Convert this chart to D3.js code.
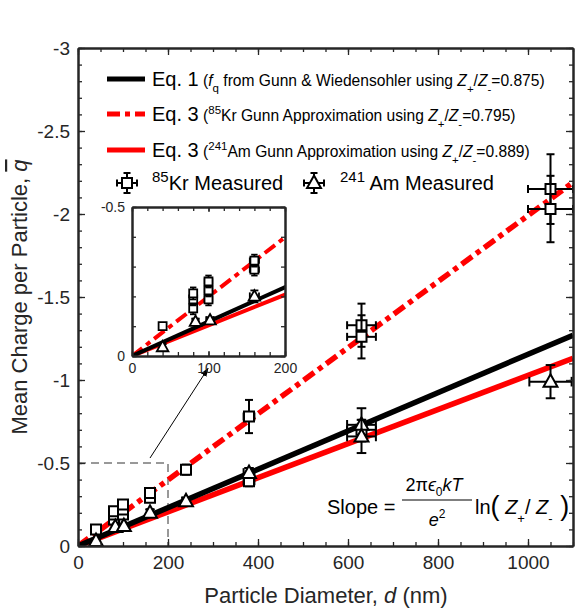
<!DOCTYPE html>
<html>
<head>
<meta charset="utf-8">
<script src="https://cdn.jsdelivr.net/npm/d3@7"></script>
<style>
  body { margin: 0; background: #fff; }
  svg { font-family: "Liberation Sans", Arial, Helvetica, sans-serif; }
</style>
</head>
<body>
<script>
// measured points, Kr-85 neutralizer (squares)
const krD    = [40, 80, 80, 80, 100, 100, 100, 160, 160, 240, 380, 380, 630, 630, 630, 1050, 1050];
const krQ    = [-0.10, -0.16, -0.19, -0.21, -0.19, -0.22, -0.25, -0.29, -0.32, -0.46, -0.78, -0.39, -1.33, -1.26, -0.70, -2.15, -2.03];
const krErrD = [3, 4, 4, 4, 5, 5, 5, 6, 6, 8, 12, 12, 32, 32, 32, 50, 50];
const krErrQ = [0.01, 0.02, 0.02, 0.02, 0.02, 0.02, 0.02, 0.02, 0.02, 0.03, 0.1, 0.03, 0.13, 0.13, 0.06, 0.21, 0.2];

// measured points, Am-241 neutralizer (triangles)
const amD    = [40, 83, 102, 160, 240, 380, 630, 630, 1050];
const amQ    = [-0.03, -0.115, -0.12, -0.20, -0.27, -0.44, -0.73, -0.66, -0.99];
const amErrD = [3, 4, 5, 6, 8, 12, 32, 32, 47];
const amErrQ = [0.01, 0.01, 0.01, 0.02, 0.02, 0.03, 0.1, 0.1, 0.1];

// model lines through the origin, value at d = 1100 nm
const modelNames = ["Eq. 3 Kr", "Eq. 3 Am", "Eq. 1"];
const modelEndQ  = [-2.19, -1.13, -1.27];
const modelColor = ["#ff0000", "#ff0000", "#000000"];
const modelDash  = ["13,5,5,5", null, null];

// ticks
const xTicks = [0, 200, 400, 600, 800, 1000];
const xTickLabels = ["0", "200", "400", "600", "800", "1000"];
const yTicks = [0, -0.5, -1, -1.5, -2, -2.5, -3];
const yTickLabels = ["0", "-0.5", "-1", "-1.5", "-2", "-2.5", "-3"];
const insetXTicks = [0, 100, 200];
const insetXTickLabels = ["0", "100", "200"];
const insetYTicks = [0, -0.5];
const insetYTickLabels = ["0", "-0.5"];

const W = 575, H = 614;
const svg = d3.select("body").append("svg").attr("width", W).attr("height", H);

const x = d3.scaleLinear().domain([0, 1100]).range([78, 573]);
const y = d3.scaleLinear().domain([0, -3]).range([546, 48]);

const xi = d3.scaleLinear().domain([0, 200]).range([132, 285]);
const yi = d3.scaleLinear().domain([0, -0.5]).range([356, 207]);

const axisColor = "#262626";

function drawAxes(g, xs, ys, o) {
  const [x0, x1] = xs.range(), [y0, y1] = ys.range();
  const parts = [
    [d3.axisBottom(xs).tickValues(o.xMinor).tickSize(-o.minor).tickFormat(""), [0, y0]],
    [d3.axisTop(xs).tickValues(o.xMinor).tickSize(-o.minor).tickFormat(""), [0, y1]],
    [d3.axisLeft(ys).tickValues(o.yMinor).tickSize(-o.minor).tickFormat(""), [x0, 0]],
    [d3.axisRight(ys).tickValues(o.yMinor).tickSize(-o.minor).tickFormat(""), [x1, 0]],
    [d3.axisTop(xs).tickValues(o.xMajor).tickSize(-o.major).tickFormat(""), [0, y1]],
    [d3.axisRight(ys).tickValues(o.yMajor).tickSize(-o.major).tickFormat(""), [x1, 0]],
    [d3.axisBottom(xs).tickValues(o.xMajor).tickSize(-o.major).tickPadding(o.padX)
      .tickFormat((d, i) => o.xLabels[i]), [0, y0]],
    [d3.axisLeft(ys).tickValues(o.yMajor).tickSize(-o.major).tickPadding(o.padY)
      .tickFormat((d, i) => o.yLabels[i]), [x0, 0]]
  ];
  parts.forEach(([ax, t]) => {
    const a = g.append("g").attr("transform", "translate(" + t[0] + "," + t[1] + ")")
      .call(ax.tickSizeOuter(0));
    a.select(".domain").attr("stroke", axisColor).attr("stroke-width", o.width);
    a.selectAll(".tick line").attr("stroke", axisColor).attr("stroke-width", 1.3);
    a.selectAll(".tick text").attr("fill", axisColor).attr("font-size", o.font)
      .attr("font-family", "Liberation Sans, Arial, Helvetica, sans-serif");
  });
}

function drawModels(g, xs, ys, lw) {
  const line = d3.line().x(d => xs(d[0])).y(d => ys(d[1]));
  modelNames.forEach((name, i) => {
    g.append("path")
      .datum([[0, 0], [1100, modelEndQ[i]]])
      .attr("d", line)
      .attr("fill", "none")
      .attr("stroke", modelColor[i])
      .attr("stroke-width", lw)
      .attr("stroke-dasharray", modelDash[i]);
  });
}

function markerPath(shape, cx, cy, s) {
  if (shape === "square") {
    const h = s / 2;
    return "M" + (cx - h) + "," + (cy - h) + "h" + s + "v" + s + "h" + (-s) + "Z";
  }
  return "M" + cx + "," + (cy - s * 0.62) + "L" + (cx + s * 0.58) + "," + (cy + s * 0.42) +
    "L" + (cx - s * 0.58) + "," + (cy + s * 0.42) + "Z";
}

function errorMark(g, cx, cy, xa, xb, ya, yb, cap, shape, s, sw) {
  const segs = [
    [cx, ya, cx, yb], [cx - cap / 2, ya, cx + cap / 2, ya], [cx - cap / 2, yb, cx + cap / 2, yb],
    [xa, cy, xb, cy], [xa, cy - cap / 2, xa, cy + cap / 2], [xb, cy - cap / 2, xb, cy + cap / 2]
  ];
  segs.forEach(sg => g.append("line")
    .attr("x1", sg[0]).attr("y1", sg[1]).attr("x2", sg[2]).attr("y2", sg[3])
    .attr("stroke", "#000").attr("stroke-width", sw));
  g.append("path").attr("d", markerPath(shape, cx, cy, s))
    .attr("fill", "#fff").attr("stroke", "#000").attr("stroke-width", sw);
}

function drawSeries(g, ds, qs, eds, eqs, shape, xs, ys, s, sw, keep) {
  ds.forEach((d, i) => {
    if (keep && !keep(d, qs[i])) return;
    errorMark(g, xs(d), ys(qs[i]), xs(d - eds[i]), xs(d + eds[i]),
      ys(qs[i] - eqs[i]), ys(qs[i] + eqs[i]), s * 0.8, shape, s, sw);
  });
}

// ---------- main plot ----------
const main = svg.append("g");
svg.append("defs").append("clipPath").attr("id", "clipMain")
  .append("rect").attr("x", 78).attr("y", 48).attr("width", 495).attr("height", 498);

// dashed zoom box
main.append("path")
  .attr("d", "M" + x(0) + "," + y(-0.5) + "H" + x(200) + "V" + y(0))
  .attr("fill", "none").attr("stroke", "#333").attr("stroke-width", 1)
  .attr("stroke-dasharray", "8,5");

drawModels(main.append("g").attr("clip-path", "url(#clipMain)"), x, y, 5.5);
drawSeries(main, krD, krQ, krErrD, krErrQ, "square", x, y, 10, 2);
drawSeries(main, amD, amQ, amErrD, amErrQ, "triangle", x, y, 12, 2);

drawAxes(main, x, y, {
  xMajor: xTicks, xLabels: xTickLabels, xMinor: d3.range(0, 1101, 50),
  yMajor: yTicks, yLabels: yTickLabels, yMinor: d3.range(0, 31).map(k => -k / 10),
  major: 7, minor: 4, padX: 10, padY: 8, font: 19, width: 2
});

// axis titles
svg.append("text")
  .attr("x", 326).attr("y", 603).attr("text-anchor", "middle")
  .attr("font-size", 22).attr("fill", axisColor)
  .call(t => {
    t.append("tspan").text("Particle Diameter,  ");
    t.append("tspan").attr("font-style", "italic").text("d");
    t.append("tspan").text(" (nm)");
  });

svg.append("text")
  .attr("transform", "translate(27,297) rotate(-90)")
  .attr("text-anchor", "middle").attr("font-size", 22).attr("fill", axisColor)
  .call(t => {
    t.append("tspan").text("Mean Charge per Particle,  ");
    t.append("tspan").attr("font-style", "italic").attr("text-decoration", "overline").text("q");
  });

// arrow to inset
const arrowFrom = [160, -0.53], arrowTo = [289, -1.07];
svg.append("defs").append("marker")
  .attr("id", "head").attr("viewBox", "0 0 10 10").attr("refX", 9).attr("refY", 5)
  .attr("markerWidth", 9).attr("markerHeight", 9).attr("orient", "auto")
  .append("path").attr("d", "M0,1.5L10,5L0,8.5Z").attr("fill", "#000");
main.append("line")
  .attr("x1", x(arrowFrom[0])).attr("y1", y(arrowFrom[1]))
  .attr("x2", x(arrowTo[0])).attr("y2", y(arrowTo[1]))
  .attr("stroke", "#000").attr("stroke-width", 1).attr("marker-end", "url(#head)");

// ---------- inset ----------
const inset = svg.append("g");
inset.append("rect").attr("x", 132).attr("y", 207).attr("width", 153).attr("height", 149).attr("fill", "#fff");
svg.select("defs").append("clipPath").attr("id", "clipInset")
  .append("rect").attr("x", 132).attr("y", 207).attr("width", 153).attr("height", 149);
drawModels(inset.append("g").attr("clip-path", "url(#clipInset)"), xi, yi, 4);
const inBox = (d, q) => d <= 200 && q >= -0.5;
drawSeries(inset, krD, krQ, krErrD, krErrQ, "square", xi, yi, 8, 1.8, inBox);
drawSeries(inset, amD, amQ, amErrD, amErrQ, "triangle", xi, yi, 10, 1.8, inBox);
drawAxes(inset, xi, yi, {
  xMajor: insetXTicks, xLabels: insetXTickLabels, xMinor: d3.range(0, 201, 20),
  yMajor: insetYTicks, yLabels: insetYTickLabels, yMinor: d3.range(0, 6).map(k => -k / 10),
  major: 5, minor: 4, padX: 7, padY: 7, font: 14, width: 2
});

// ---------- legend ----------
function rich(sel, parts) {
  let cur = 0;
  parts.forEach(p => {
    const s = p.s || 0;
    const t = sel.append("tspan").text(p.t).attr("dy", s - cur);
    cur = s;
    if (p.size) t.attr("font-size", p.size);
    if (p.i) t.attr("font-style", "italic");
  });
}

const fs = 15.6, sub = 11.5;
const legend = svg.append("g");
const legRows = [
  { y: 79, color: "#000", dash: null, parts: [
    { t: "Eq. 1", size: 20 }, { t: " (", size: fs }, { t: "f", size: fs, i: 1 }, { t: "q", size: sub, s: 6 },
    { t: " from Gunn & Wiedensohler using ", size: fs }, { t: "Z", size: fs, i: 1 }, { t: "+", size: sub, s: 7 },
    { t: "/", size: fs }, { t: "Z", size: fs, i: 1 }, { t: "-", size: sub, s: 7 }, { t: "=0.875)", size: fs }] },
  { y: 114, color: "#ff0000", dash: "13,5,5,5", parts: [
    { t: "Eq. 3", size: 20 }, { t: " (", size: fs }, { t: "85", size: sub, s: -7 },
    { t: "Kr Gunn Approximation using ", size: fs }, { t: "Z", size: fs, i: 1 }, { t: "+", size: sub, s: 7 },
    { t: "/", size: fs }, { t: "Z", size: fs, i: 1 }, { t: "-", size: sub, s: 7 }, { t: "=0.795)", size: fs }] },
  { y: 150, color: "#ff0000", dash: null, parts: [
    { t: "Eq. 3", size: 20 }, { t: " (", size: fs }, { t: "241", size: sub, s: -7 },
    { t: "Am Gunn Approximation using ", size: fs }, { t: "Z", size: fs, i: 1 }, { t: "+", size: sub, s: 7 },
    { t: "/", size: fs }, { t: "Z", size: fs, i: 1 }, { t: "-", size: sub, s: 7 }, { t: "=0.889)", size: fs }] }
];
legRows.forEach(r => {
  legend.append("line").attr("x1", 107).attr("x2", 145).attr("y1", r.y).attr("y2", r.y)
    .attr("stroke", r.color).attr("stroke-width", 5).attr("stroke-dasharray", r.dash);
  legend.append("text").attr("x", 152).attr("y", r.y + 7).attr("fill", "#000")
    .call(t => rich(t, r.parts));
});
errorMark(legend, 127, 183, 117, 137, 173, 193, 7, "square", 10, 2);
legend.append("text").attr("x", 152).attr("y", 190).attr("fill", "#000")
  .call(t => rich(t, [{ t: "85", size: 15, s: -8 }, { t: "Kr Measured", size: 20 }]));
errorMark(legend, 314, 183, 304, 324, 173, 193, 7, "triangle", 12, 2);
legend.append("text").attr("x", 340).attr("y", 190).attr("fill", "#000")
  .call(t => rich(t, [{ t: "241", size: 15, s: -8 }, { t: " Am Measured", size: 20 }]));

// ---------- slope formula ----------
const f = svg.append("g").attr("fill", "#000");
f.append("text").attr("x", 327).attr("y", 514).attr("font-size", 20).text("Slope =");
f.append("text").attr("x", 434).attr("y", 491).attr("text-anchor", "middle").attr("font-size", 18)
  .call(t => rich(t, [{ t: "2π" }, { t: "ϵ", i: 1 }, { t: "0", size: 12, s: 5 }, { t: "kT", i: 1 }]));
f.append("line").attr("x1", 402).attr("x2", 472).attr("y1", 500).attr("y2", 500)
  .attr("stroke", "#000").attr("stroke-width", 1.2);
f.append("text").attr("x", 437).attr("y", 526).attr("text-anchor", "middle").attr("font-size", 18)
  .call(t => rich(t, [{ t: "e", i: 1 }, { t: "2", size: 12, s: -8 }]));
f.append("text").attr("x", 475).attr("y", 514).attr("font-size", 20)
  .call(t => rich(t, [
    { t: "ln" }, { t: "(", size: 27, s: 1 }, { t: " Z", i: 1 }, { t: "+", size: 13, s: 9 },
    { t: "/ " }, { t: "Z", i: 1 }, { t: "-", size: 13, s: 9 }, { t: " )", size: 27, s: 1 }]));
</script>
</body>
</html>
